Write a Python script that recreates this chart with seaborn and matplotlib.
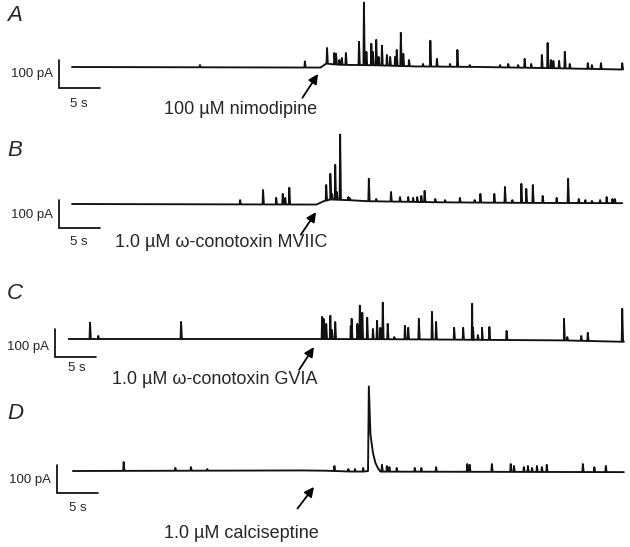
import numpy as np
import seaborn as sns
import matplotlib.pyplot as plt

sns.set_style('white')
plt.rcParams['font.family'] = ['Liberation Sans', 'DejaVu Sans']

# panel A - nimodipine (time in s, amplitude in pA)
a_base_t = [0.0, 30.3, 31.0, 32.5, 37.0, 42.0, 50.0, 60.0, 67.2]
a_base_v = [0, -2, 12, 8, 6, 2, 0, -5, -9]
a_spike_t = [15.6, 28.4, 31.1, 32.0, 32.2, 32.6, 32.9, 33.4, 35.0, 35.6, 35.9, 36.5,
             36.7, 37.1, 37.4, 37.8, 38.4, 38.8, 39.4, 39.6, 40.1, 40.4, 41.1, 42.8,
             43.7, 44.5, 46.1, 47.0, 48.5, 52.2, 53.2, 54.4, 55.2, 56.0, 57.3, 58.0,
             58.4, 58.7, 59.4, 60.1, 60.7, 62.9, 63.4, 64.5, 67.1]
a_spike_h = [7, 20, 68, 50, 47, 25, 32, 50, 90, 230, 54, 83,
             54, 97, 36, 76, 43, 36, 36, 61, 122, 47, 25, 11,
             94, 29, 11, 61, 7, 7, 11, 7, 29, 11, 43, 86,
             25, 22, 22, 54, 11, 14, 7, 14, 14]

# panel B - omega-conotoxin MVIIC
b_base_t = [0.0, 29.8, 30.7, 31.5, 33.5, 36.0, 45.0, 55.0, 67.1]
b_base_v = [0, -2, 10, 16, 14, 10, 6, 4, 3]
b_spike_t = [20.5, 23.3, 24.9, 25.7, 26.0, 26.5, 31.0, 31.5, 31.7, 32.1, 32.3, 32.7,
             33.7, 33.9, 36.2, 37.1, 38.9, 40.0, 41.0, 41.6, 42.1, 42.6, 43.0, 44.3,
             45.5, 47.3, 49.1, 49.8, 51.5, 52.8, 53.7, 54.8, 55.4, 56.2, 57.4, 59.1,
             60.5, 61.8, 62.6, 63.4, 64.4, 65.2, 65.9, 66.2]
b_spike_h = [14, 50, 22, 36, 22, 58, 68, 108, 36, 140, 43, 248,
             25, 20, 90, 18, 43, 25, 25, 22, 25, 29, 47, 18,
             14, 22, 14, 36, 36, 61, 14, 72, 54, 68, 29, 22,
             90, 18, 14, 11, 14, 25, 18, 18]

# panel C - omega-conotoxin GVIA
c_base_t = [-0.4, 30.0, 40.0, 50.0, 55.0, 60.0, 67.3]
c_base_v = [0, 0, -1, -3, -4, -5, -10]
c_spike_t = [2.2, 3.2, 13.3, 30.5, 30.7, 31.0, 31.5, 31.7, 32.1, 34.0, 34.1, 34.8,
             35.1, 35.4, 36.0, 36.7, 37.2, 37.6, 37.9, 38.5, 39.3, 40.6, 41.0, 42.3,
             43.9, 44.4, 46.6, 47.7, 48.8, 48.9, 49.5, 50.0, 50.9, 53.0, 60.0, 60.4,
             62.1, 62.9, 67.1]
c_spike_h = [58, 11, 61, 79, 72, 54, 83, 32, 61, 47, 72, 54,
             119, 94, 76, 36, 65, 40, 130, 54, 7, 47, 40, 72,
             97, 61, 40, 40, 126, 40, 14, 40, 43, 29, 72, 7,
             11, 22, 108]

# panel D - calciseptine
d_base_t = [0.1, 28.0, 31.0, 34.0, 67.3]
d_base_v = [0, 2, 1, -2, -4]
d_spike_t = [6.3, 12.6, 14.5, 16.5, 32.0, 33.7, 34.5, 35.5, 37.8, 38.4, 38.7, 39.6,
             41.8, 42.6, 44.4, 48.2, 48.5, 51.2, 53.5, 53.9, 55.1, 55.6, 56.1, 56.7,
             57.3, 57.9, 62.3, 63.7, 65.1]
d_spike_h = [32, 11, 14, 7, 18, 7, 7, 11, 22, 18, 14, 11,
             11, 11, 14, 25, 22, 25, 25, 18, 14, 18, 11, 18,
             14, 22, 25, 14, 18]
d_event_t = [36.1, 36.2, 36.4, 36.6, 36.7, 37.0, 37.3, 37.6]
d_event_v = [0, 302, 130, 86, 65, 29, 11, -2]

labels = ['A', 'B', 'C', 'D']
drugs = ['100 \u00b5M nimodipine', '1.0 \u00b5M \u03c9-conotoxin MVIIC',
         '1.0 \u00b5M \u03c9-conotoxin GVIA', '1.0 \u00b5M calciseptine']


def build_trace(base_t, base_v, spike_t, spike_h, event_t=(), event_v=()):
    t = list(base_t) + list(event_t)
    v = list(base_v) + list(event_v)
    for st, sh in zip(spike_t, spike_h):
        foot = np.interp(st, base_t, base_v)
        t += [st - 0.06, st, st + 0.1]
        v += [foot, sh, foot]
    order = np.argsort(t, kind='stable')
    return np.array(t)[order], np.array(v)[order]


traces = [build_trace(a_base_t, a_base_v, a_spike_t, a_spike_h),
          build_trace(b_base_t, b_base_v, b_spike_t, b_spike_h),
          build_trace(c_base_t, c_base_v, c_spike_t, c_spike_h),
          build_trace(d_base_t, d_base_v, d_spike_t, d_spike_h, d_event_t, d_event_v)]

W, H = 630, 547
K = 100 / 28.0          # pA per pixel
PXS = 8.2               # pixels per second
baselines = [67, 204, 339, 471]
# scale bar corners (s, pA), label / arrow / text positions per panel
bar_x = [-1.59, -1.59, -2.07, -1.83]
bar_y = [-75, -86, -64, -79]
pa_y = [-25, -39, -29, -32]
s_pos = [(0.85, -132), (0.85, -136), (0.6, -104), (0.73, -132)]
letter_y = [184, 191, 162, 205]
arrow_head = [(30.0, -25), (29.76, -29), (29.5, -29), (29.5, -57)]
arrow_tail = [(28.1, -110), (27.9, -110), (27.7, -110), (27.5, -134)]
drug_pos = [(20.6, -150), (18.2, -137), (17.4, -143), (20.7, -224)]

fig = plt.figure(figsize=(W / 100, H / 100), dpi=100)
for i in range(4):
    base = baselines[i]
    ax = fig.add_axes([0, 1 - (base + 60) / H, 1, 150 / H])
    ax.set_xlim(-72 / PXS, (W - 72) / PXS)
    ax.set_ylim(-60 * K, 90 * K)
    ax.axis('off')
    ax.patch.set_visible(False)

    t, v = traces[i]
    sns.lineplot(x=t, y=v, ax=ax, color='#111111', linewidth=1.35,
                 estimator=None, sort=False)

    # scale bars: 5 s and 100 pA
    bx, by = bar_x[i], bar_y[i]
    ax.plot([bx, bx, bx + 5], [by + 100, by, by], color='black', linewidth=1.2,
            solid_joinstyle='miter', clip_on=False)
    ax.text(bx - 0.75, pa_y[i], '100 pA', ha='right', va='center', fontsize=9.5)
    ax.text(s_pos[i][0], s_pos[i][1], '5 s', ha='center', va='center', fontsize=9.5)
    ax.text(-7.9, letter_y[i], labels[i], ha='left', va='center', fontsize=16,
            style='italic')

    ax.annotate('', xy=arrow_head[i], xytext=arrow_tail[i],
                arrowprops=dict(arrowstyle='-|>', color='black', lw=1.3,
                                mutation_scale=14, shrinkA=0, shrinkB=0),
                annotation_clip=False)
    ax.text(drug_pos[i][0], drug_pos[i][1], drugs[i], ha='center', va='center',
            fontsize=13)

plt.savefig('out.png', dpi=100)
